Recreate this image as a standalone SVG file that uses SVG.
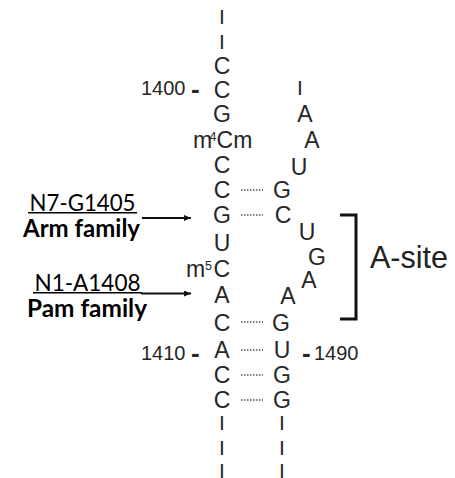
<svg xmlns="http://www.w3.org/2000/svg" width="455" height="478" viewBox="0 0 455 478">
  <style>
    .nt { font-family: "Liberation Sans", Arial, Helvetica, sans-serif; font-size: 23px; fill: #262626; text-anchor: middle; }
    .bar { font-family: "Liberation Sans", Arial, Helvetica, sans-serif; font-size: 21px; fill: #262626; text-anchor: middle; }
    .mod { font-family: "Liberation Sans", Arial, Helvetica, sans-serif; font-size: 23px; fill: #262626; }
    .sup { font-size: 12.5px; }
    .num { font-family: "Liberation Sans", Arial, Helvetica, sans-serif; font-size: 20px; fill: #262626; }
    .dash { font-weight: bold; font-size: 26px; }
    .site { font-family: "Liberation Sans", Arial, Helvetica, sans-serif; font-size: 30.5px; fill: #222; }
    .lbl { font-family: Lato, "Liberation Sans", sans-serif; font-size: 24px; fill: #000; }
    .lbl-b { font-family: Lato, "Liberation Sans", sans-serif; font-size: 24px; font-weight: bold; fill: #000; }
    .bp { stroke: #555; stroke-width: 1.5; stroke-dasharray: 1.5 1.5; fill: none; }
    .arrow { stroke: #111; stroke-width: 2; fill: none; marker-end: url(#head); }
    .uline { stroke: #000; stroke-width: 1.5; }
    .bracket { stroke: #111; stroke-width: 3; fill: none; }
  </style>
  <defs>
    <marker id="head" markerUnits="userSpaceOnUse" markerWidth="8" markerHeight="8" refX="7" refY="3" orient="auto">
      <path d="M0,0 L7,3 L0,6 Z" fill="#111"/>
    </marker>
  </defs>

  <!-- 5' strand, 1399-1412 -->
  <g id="left-strand">
    <g id="chain-top-1"><text class="bar" x="222" y="23.5">I</text></g>
    <g id="chain-top-2"><text class="bar" x="222" y="48.5">I</text></g>
    <g id="nt-C1399"><text class="nt" x="222" y="73.5">C</text></g>
    <g id="nt-C1400"><text class="nt" x="222" y="97.5">C</text></g>
    <g id="nt-G1401"><text class="nt" x="222" y="122">G</text></g>
    <g id="nt-m4Cm1402"><text class="mod" y="147.5"><tspan x="193">m</tspan><tspan class="sup" x="209.5" dy="-7">4</tspan><tspan x="216.5" dy="7">C</tspan><tspan>m</tspan></text></g>
    <g id="nt-C1403"><text class="nt" x="222" y="173">C</text></g>
    <g id="nt-C1404"><text class="nt" x="222" y="198">C</text></g>
    <g id="nt-G1405"><text class="nt" x="222" y="222.5">G</text></g>
    <g id="nt-U1406"><text class="nt" x="222" y="251">U</text></g>
    <g id="nt-m5C1407"><text class="mod" y="277"><tspan x="186">m</tspan><tspan class="sup" x="205" dy="-7">5</tspan><tspan x="213.5" dy="7">C</tspan></text></g>
    <g id="nt-A1408"><text class="nt" x="222" y="302.5">A</text></g>
    <g id="nt-C1409"><text class="nt" x="222" y="330.5">C</text></g>
    <g id="nt-A1410"><text class="nt" x="222" y="358">A</text></g>
    <g id="nt-C1411"><text class="nt" x="222" y="383">C</text></g>
    <g id="nt-C1412"><text class="nt" x="222" y="408">C</text></g>
    <g id="chain-bottom-l1"><text class="bar" x="222" y="430">I</text></g>
    <g id="chain-bottom-l2"><text class="bar" x="222" y="455">I</text></g>
    <g id="chain-bottom-l3"><text class="bar" x="222" y="478">I</text></g>
  </g>

  <!-- 3' strand, 1488-1500 -->
  <g id="right-strand">
    <g id="chain-top-r"><text class="bar" x="300" y="95">I</text></g>
    <g id="nt-A1500"><text class="nt" x="305" y="121.5">A</text></g>
    <g id="nt-A1499"><text class="nt" x="312" y="147.5">A</text></g>
    <g id="nt-U1498"><text class="nt" x="299" y="175">U</text></g>
    <g id="nt-G1497"><text class="nt" x="282" y="198">G</text></g>
    <g id="nt-C1496"><text class="nt" x="283" y="222.5">C</text></g>
    <g id="nt-U1495"><text class="nt" x="307" y="239.5">U</text></g>
    <g id="nt-G1494"><text class="nt" x="317" y="264.5">G</text></g>
    <g id="nt-A1493"><text class="nt" x="309" y="287.5">A</text></g>
    <g id="nt-A1492"><text class="nt" x="288" y="304">A</text></g>
    <g id="nt-G1491"><text class="nt" x="281" y="330.5">G</text></g>
    <g id="nt-U1490"><text class="nt" x="282" y="358">U</text></g>
    <g id="nt-G1489"><text class="nt" x="282" y="383">G</text></g>
    <g id="nt-G1488"><text class="nt" x="282" y="408">G</text></g>
    <g id="chain-bottom-r1"><text class="bar" x="282" y="430">I</text></g>
    <g id="chain-bottom-r2"><text class="bar" x="282" y="455">I</text></g>
    <g id="chain-bottom-r3"><text class="bar" x="282" y="478">I</text></g>
  </g>

  <!-- position numbers -->
  <g id="num-1400"><text class="num" y="95"><tspan x="141">1400</tspan> <tspan class="dash" x="191" dy="2.8">-</tspan></text></g>
  <g id="num-1410"><text class="num" y="359.5"><tspan x="141">1410</tspan> <tspan class="dash" x="191" dy="2.8">-</tspan></text></g>
  <g id="num-1490"><text class="num" y="359.5"><tspan class="dash" x="302" dy="2.8">-</tspan> <tspan x="314" dy="-2.8">1490</tspan></text></g>

  <!-- A-site bracket and label -->
  <g id="a-site">
    <polyline class="bracket" points="340,215 356,215 356,319 340,319"/>
    <text class="site" x="370" y="268">A-site</text>
  </g>

  <!-- binding-site labels -->
  <g id="label-arm">
    <text class="lbl" x="29.5" y="211" textLength="106" lengthAdjust="spacingAndGlyphs">N7-G1405</text>
    <line class="uline" x1="28" y1="212.8" x2="137" y2="212.8"/>
    <text class="lbl-b" x="23" y="237" textLength="117" lengthAdjust="spacingAndGlyphs">Arm family</text>
  </g>
  <g id="label-pam">
    <text class="lbl" x="34.5" y="291" textLength="106" lengthAdjust="spacingAndGlyphs">N1-A1408</text>
    <line class="uline" x1="33" y1="292.8" x2="142" y2="292.8"/>
    <text class="lbl-b" x="27" y="317" textLength="120" lengthAdjust="spacingAndGlyphs">Pam family</text>
  </g>

  <!-- connectors: base pairs and pointer arrows -->
  <g id="connectors">
    <line class="bp" x1="241" y1="190" x2="263" y2="190"/>
    <line class="bp" x1="241" y1="215" x2="263" y2="215"/>
    <line class="bp" x1="241" y1="322" x2="263" y2="322"/>
    <line class="bp" x1="241" y1="350" x2="263" y2="350"/>
    <line class="bp" x1="241" y1="375" x2="263" y2="375"/>
    <line class="bp" x1="241" y1="400" x2="263" y2="400"/>
    <line class="arrow" x1="142" y1="218" x2="191" y2="218"/>
    <line class="arrow" x1="141" y1="293.5" x2="191" y2="293.5"/>
  </g>
</svg>
